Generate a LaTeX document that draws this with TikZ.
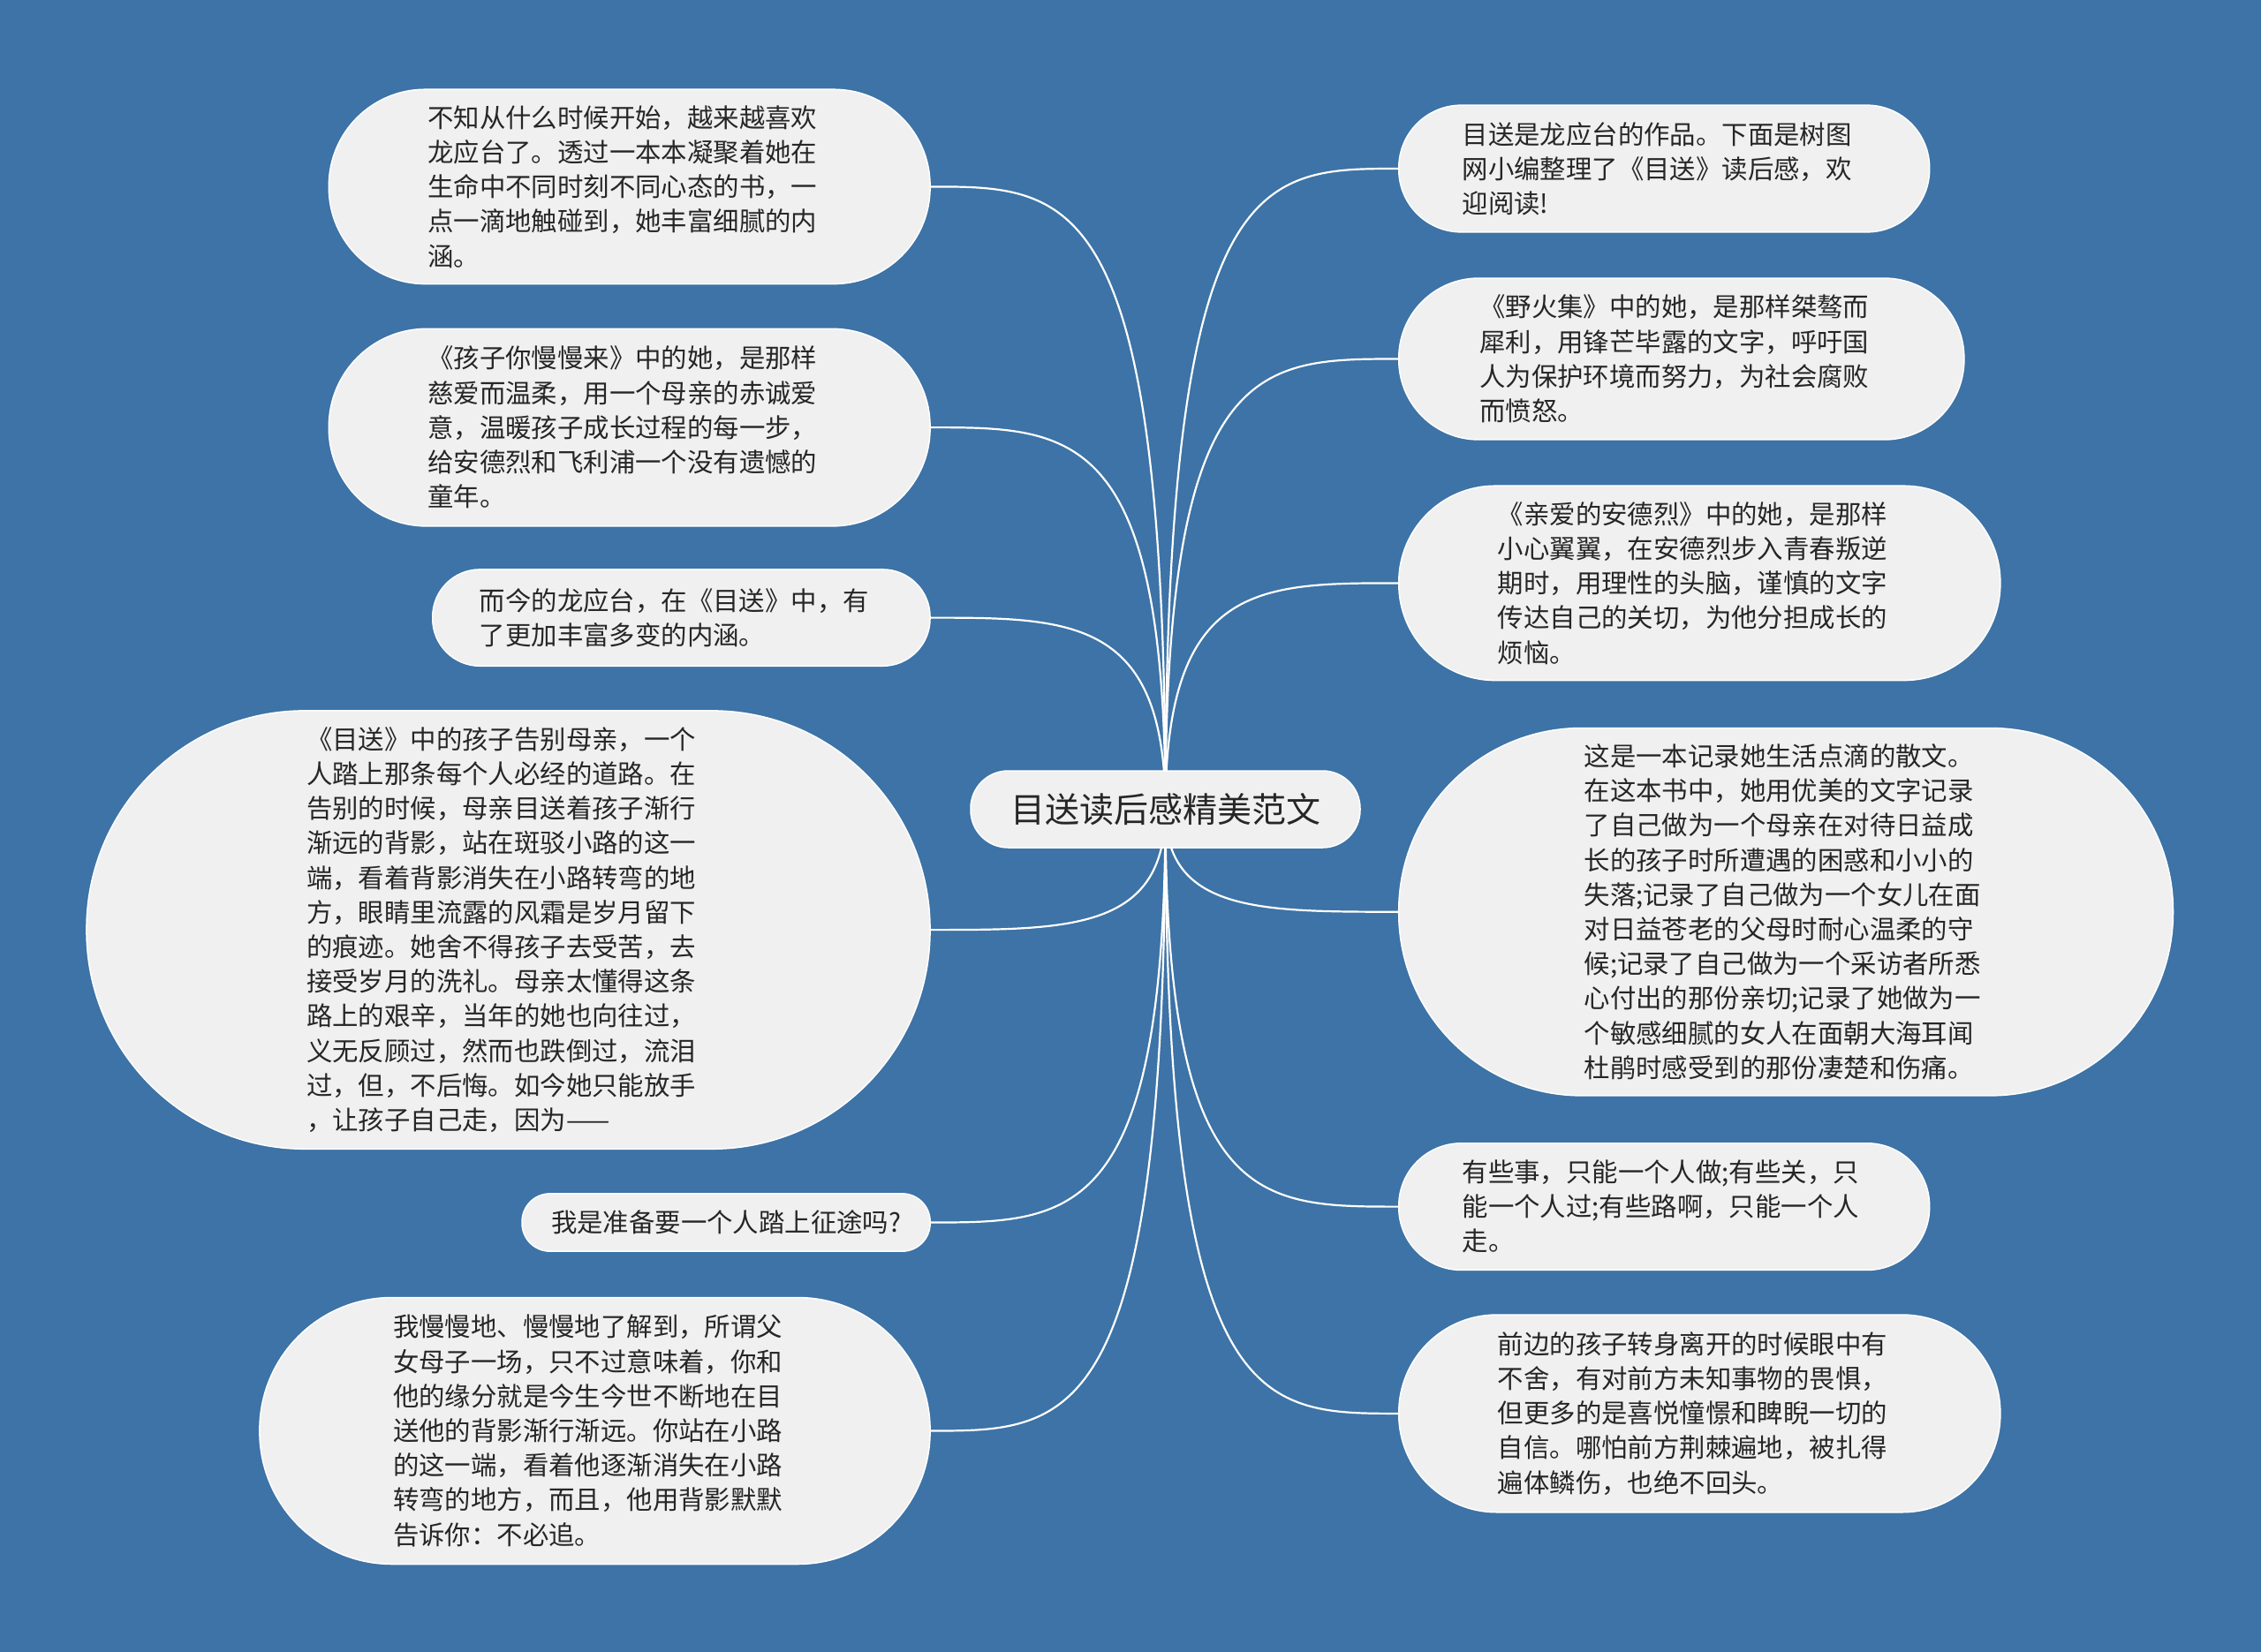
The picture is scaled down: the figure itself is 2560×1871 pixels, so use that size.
\documentclass[tikz,border=0pt]{standalone}
\usepackage{fontspec}
\newfontfamily\cjk{Noto Sans CJK SC}
\usetikzlibrary{calc}
\pgfdeclarelayer{bg}
\pgfsetlayers{bg,main}
\definecolor{bgblue}{HTML}{3D73A6}
\definecolor{boxgray}{HTML}{F0F0F0}
\definecolor{txt}{HTML}{262626}
\begin{document}
\begin{tikzpicture}[x=1pt,y=-1pt,
  box/.style={fill=boxgray, draw=white, line width=1.5pt, text=txt,
    font=\cjk\fontsize{29.4}{39.2}\selectfont, align=left, inner sep=0pt},
  para/.style={text width=457pt},
  pill/.style 2 args={minimum width=#1, minimum height=#2, rounded corners=#2/2-1pt},
  conn/.style={draw=white, line width=2.2pt}]
\useasboundingbox (0,0) rectangle (2560,1871);

\node[box, pill={441pt}{87pt}, font=\cjk\fontsize{39}{46}\selectfont, text=txt] (root) at (1319.5,916.5) {目送读后感精美范文};

% left side
\node[box, para, pill={680.8pt}{220.4pt}] (l1) at (712.7,211.4) {不知从什么时候开始，越来越喜欢\\龙应台了。透过一本本凝聚着她在\\生命中不同时刻不同心态的书，一\\点一滴地触碰到，她丰富细腻的内\\涵。};
\node[box, para, pill={680.8pt}{223.6pt}] (l2) at (712.7,484.1) {《孩子你慢慢来》中的她，是那样\\慈爱而温柔，用一个母亲的赤诚爱\\意，温暖孩子成长过程的每一步，\\给安德烈和飞利浦一个没有遗憾的\\童年。};
\node[box, para, pill={563.3pt}{109.4pt}] (l3) at (771.4,699.6) {而今的龙应台，在《目送》中，有\\了更加丰富多变的内涵。};
\node[box, para, pill={955.1pt}{496.4pt}] (l4) at (575.5,1053.1) {《目送》中的孩子告别母亲，一个\\人踏上那条每个人必经的道路。在\\告别的时候，母亲目送着孩子渐行\\渐远的背影，站在斑驳小路的这一\\端，看着背影消失在小路转弯的地\\方，眼睛里流露的风霜是岁月留下\\的痕迹。她舍不得孩子去受苦，去\\接受岁月的洗礼。母亲太懂得这条\\路上的艰辛，当年的她也向往过，\\义无反顾过，然而也跌倒过，流泪\\过，但，不后悔。如今她只能放手\\，让孩子自己走，因为——};
\node[box, pill={462.1pt}{65.3pt}] (l5) at (822.1,1384.5) {我是准备要一个人踏上征途吗?};
\node[box, para, pill={759.2pt}{302pt}] (l6) at (673.5,1620.5) {我慢慢地、慢慢地了解到，所谓父\\女母子一场，只不过意味着，你和\\他的缘分就是今生今世不断地在目\\送他的背影渐行渐远。你站在小路\\的这一端，看着他逐渐消失在小路\\转弯的地方，而且，他用背影默默\\告诉你：不必追。};

% right side
\node[box, para, pill={600.9pt}{143.7pt}] (r1) at (1884.2,191.0) {目送是龙应台的作品。下面是树图\\网小编整理了《目送》读后感，欢\\迎阅读!};
\node[box, para, pill={640.1pt}{182.9pt}] (r2) at (1903.8,406.5) {《野火集》中的她，是那样桀骜而\\犀利，用锋芒毕露的文字，呼吁国\\人为保护环境而努力，为社会腐败\\而愤怒。};
\node[box, para, pill={681.1pt}{220.4pt}] (r3) at (1924.3,660.4) {《亲爱的安德烈》中的她，是那样\\小心翼翼，在安德烈步入青春叛逆\\期时，用理性的头脑，谨慎的文字\\传达自己的关切，为他分担成长的\\烦恼。};
\node[box, para, pill={876.8pt}{416.4pt}] (r4) at (2022.1,1032.7) {这是一本记录她生活点滴的散文。\\在这本书中，她用优美的文字记录\\了自己做为一个母亲在对待日益成\\长的孩子时所遭遇的困惑和小小的\\失落;记录了自己做为一个女儿在面\\对日益苍老的父母时耐心温柔的守\\候;记录了自己做为一个采访者所悉\\心付出的那份亲切;记录了她做为一\\个敏感细腻的女人在面朝大海耳闻\\杜鹃时感受到的那份凄楚和伤痛。};
\node[box, para, pill={600.9pt}{143.7pt}] (r5) at (1884.2,1366.6) {有些事，只能一个人做;有些关，只\\能一个人过;有些路啊，只能一个人\\走。};
\node[box, para, pill={681.1pt}{223.7pt}] (r6) at (1924.3,1600.9) {前边的孩子转身离开的时候眼中有\\不舍，有对前方未知事物的畏惧，\\但更多的是喜悦憧憬和睥睨一切的\\自信。哪怕前方荆棘遍地，被扎得\\遍体鳞伤，也绝不回头。};

\begin{pgfonlayer}{bg}
\fill[bgblue] (0,0) rectangle (2560,1871);
\foreach \n in {l1,l2,l3,l4,l5,l6}
  \draw[conn] (root.center) .. controls (root.center |- \n.east) and ($(root.center |- \n.east)!0.4!(\n.east)$) .. (\n.east);
\foreach \n in {r1,r2,r3,r4,r5,r6}
  \draw[conn] (root.center) .. controls (root.center |- \n.west) and ($(root.center |- \n.west)!0.4!(\n.west)$) .. (\n.west);
\end{pgfonlayer}
\end{tikzpicture}
\end{document}
